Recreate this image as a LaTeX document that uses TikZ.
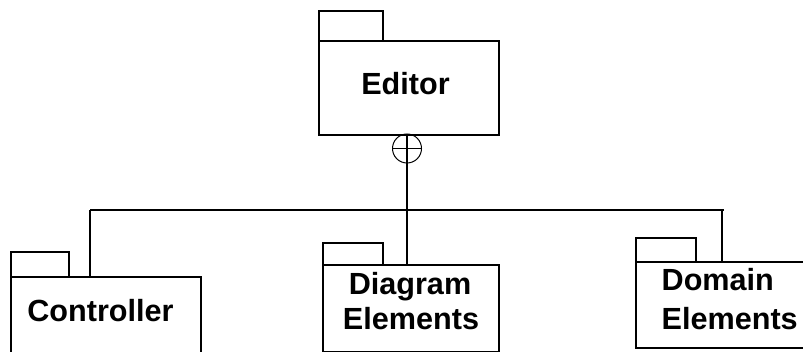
\documentclass[tikz,border=0pt]{standalone}
\usepackage{fontspec}
\setmainfont{Liberation Sans}
\begin{document}
\begin{tikzpicture}[x=1pt,y=-1pt,
  pkg/.style={draw=black, line width=2pt, fill=white, rectangle, inner sep=0pt, anchor=north west},
  conn/.style={draw=black, line width=2pt},
  lbl/.style={font=\bfseries\fontsize{30.6}{36}\selectfont, inner sep=0pt, text=black}]
\useasboundingbox (0,0) rectangle (803,352);
\clip (0,0) rectangle (803,352);
% connectors
\coordinate (cc) at (407,148.5);
\coordinate (barL) at (90,210);
\coordinate (barM) at (407,210);
\coordinate (barR) at (724,210);
% packages: tabs
\node[pkg, minimum width=64pt, minimum height=30pt] (edtab) at (318,10) {};
\node[pkg, minimum width=180pt, minimum height=94pt] (editor) at (318,40) {};
\node[pkg, minimum width=58pt, minimum height=25pt] (cttab) at (10,251) {};
\node[pkg, minimum width=190pt, minimum height=120pt] (ctrl) at (10,276) {};
\node[pkg, minimum width=60pt, minimum height=22pt] (dgtab) at (322,242) {};
\node[pkg, minimum width=176pt, minimum height=87pt] (diag) at (322,264) {};
\node[pkg, minimum width=60pt, minimum height=24pt] (dmtab) at (635,237) {};
\node[pkg, minimum width=200pt, minimum height=86pt] (dom) at (635,261) {};
% containment circle
\draw[line width=1pt] (cc) circle (14.5);
\draw[line width=1pt] ([xshift=-14.5pt]cc) -- ([xshift=14.5pt]cc);
\draw[conn] (editor.south -| cc) -- (barM);
\draw[conn] (barL) -- (barR);
\draw[conn] (barL) -- (barL |- ctrl.north);
\draw[conn] (barM) -- (barM |- diag.north);
\draw[conn] ([xshift=-2pt]barR) -- ([xshift=-2pt]barR |- dom.north);
% labels
\node[lbl, anchor=base] (edtxt) at (405.5,95) {Editor};
\node[lbl, anchor=base] (cttxt) at (100.5,322) {Controller};
\node[lbl, anchor=base] (dgtxt1) at (410,295) {Diagram};
\node[lbl, anchor=base] (dgtxt2) at (411,330) {Elements};
\node[lbl, anchor=base west] (dmtxt1) at (661.5,291) {Domain};
\node[lbl, anchor=base west] (dmtxt2) at (661.5,330) {Elements};
\end{tikzpicture}
\end{document}
